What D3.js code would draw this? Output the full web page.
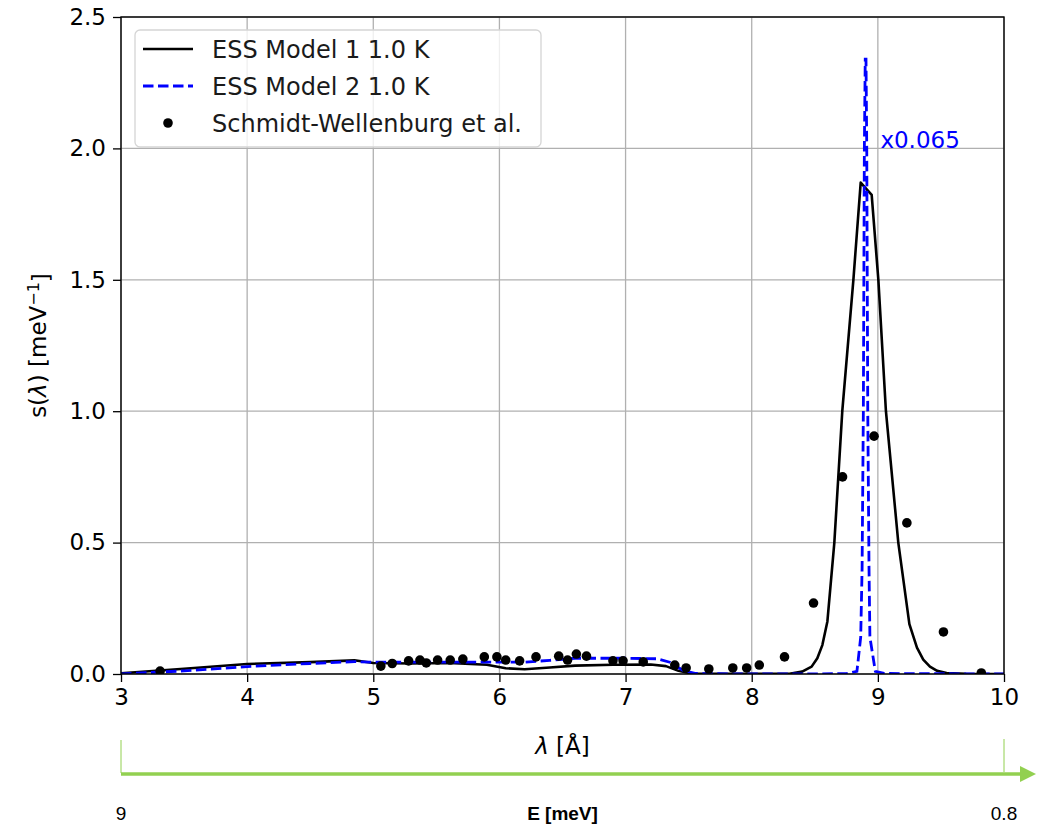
<head>
  <script src="https://d3js.org/d3.v7.min.js"></script>
</head>
<style>
  body { margin: 0; background: #fff; }
  text { font-family: "DejaVu Sans", sans-serif; }
</style>
<body>
  <svg id="chart"></svg>
</body>
<script>
  var w = 1038;
  var h = 824;
  var margin = {top: 17, right: 34, bottom: 150, left: 121};

  // measured points (Schmidt-Wellenburg et al.)
  var swLam = [3.31, 5.06, 5.15, 5.28, 5.37, 5.42, 5.51, 5.61, 5.71, 5.88, 5.98, 6.05, 6.16, 6.29,
               6.47, 6.54, 6.61, 6.69, 6.90, 6.98, 7.14, 7.39, 7.48, 7.66, 7.85, 7.96, 8.06, 8.26,
               8.49, 8.72, 8.97, 9.23, 9.52, 9.82];
  var swS   = [0.011, 0.03, 0.04, 0.05, 0.053, 0.042, 0.053, 0.053, 0.057, 0.065, 0.065, 0.053, 0.05, 0.065,
               0.068, 0.053, 0.076, 0.068, 0.05, 0.05, 0.046, 0.034, 0.023, 0.019, 0.023, 0.023, 0.034, 0.065,
               0.27, 0.75, 0.905, 0.575, 0.16, 0.004];

  // ESS Model 1 1.0 K
  var m1Lam = [3.0, 3.5, 4.0, 4.5, 4.85, 5.0, 5.3, 5.6, 5.9, 6.05, 6.2, 6.4, 6.6, 6.9, 7.2, 7.32, 7.42,
               7.52, 8.0, 8.3, 8.4, 8.475, 8.52, 8.56, 8.6, 8.655, 8.718, 8.806, 8.864, 8.951, 9.004, 9.064,
               9.162, 9.25, 9.31, 9.36, 9.413, 9.47, 9.545, 9.7, 10.0];
  var m1S   = [0.003, 0.02, 0.038, 0.045, 0.052, 0.042, 0.04, 0.042, 0.035, 0.022, 0.018, 0.025, 0.032, 0.035, 0.036, 0.03, 0.012,
               0.002, 0.001, 0.001, 0.009, 0.028, 0.06, 0.11, 0.2, 0.5, 1.0, 1.5, 1.87, 1.823, 1.5, 1.0,
               0.5, 0.19, 0.1, 0.055, 0.028, 0.012, 0.004, 0.001, 0.0];

  // ESS Model 2 1.0 K (scaled x0.065)
  var m2Lam = [3.0, 3.5, 4.0, 4.5, 4.85, 5.0, 5.5, 6.0, 6.2, 6.4, 6.6, 7.0, 7.25, 7.35, 7.45, 7.55, 8.0,
               8.75, 8.834, 8.864, 8.875, 8.885, 8.893, 8.9, 8.906, 8.912, 8.92, 8.93, 8.937, 8.98, 9.05, 10.0];
  var m2S   = [0.0, 0.012, 0.028, 0.04, 0.047, 0.045, 0.045, 0.045, 0.045, 0.052, 0.06, 0.06, 0.058, 0.045, 0.015, 0.002, 0.0,
               0.001, 0.01, 0.14, 0.4, 1.0, 2.0, 2.34, 2.34, 2.0, 1.0, 0.4, 0.14, 0.01, 0.002, 0.0];

  var xTicks = [3, 4, 5, 6, 7, 8, 9, 10];
  var yTicks = [0.0, 0.5, 1.0, 1.5, 2.0, 2.5];
  var legendLabels = ["ESS Model 1 1.0 K", "ESS Model 2 1.0 K", "Schmidt-Wellenburg et al."];
  var eLabels = ["9", "E [meV]", "0.8"];

  var svg = d3.select("svg#chart")
      .attr("width", w)
      .attr("height", h);

  var x = d3.scaleLinear().domain([3, 10]).range([margin.left, w - margin.right]);
  var y = d3.scaleLinear().domain([0, 2.5]).range([h - margin.bottom, margin.top]);

  svg.append("defs").append("clipPath").attr("id", "clip")
      .append("rect")
      .attr("x", x(3)).attr("y", y(2.5))
      .attr("width", x(10) - x(3)).attr("height", y(0) - y(2.5));

  // grid
  var grid = svg.append("g");
  grid.selectAll("line.gx").data(xTicks).enter().append("line")
      .attr("x1", d => x(d)).attr("x2", d => x(d))
      .attr("y1", y(0)).attr("y2", y(2.5))
      .style("stroke", "#b0b0b0").style("stroke-width", 1.3);
  grid.selectAll("line.gy").data(yTicks).enter().append("line")
      .attr("x1", x(3)).attr("x2", x(10))
      .attr("y1", d => y(d)).attr("y2", d => y(d))
      .style("stroke", "#b0b0b0").style("stroke-width", 1.3);

  // axes
  var xAxis = svg.append("g")
      .attr("transform", "translate(0," + y(0) + ")")
      .call(d3.axisBottom(x).tickValues(xTicks).tickFormat(d3.format("d")).tickSize(8).tickPadding(7));
  var yAxis = svg.append("g")
      .attr("transform", "translate(" + x(3) + ",0)")
      .call(d3.axisLeft(y).tickValues(yTicks).tickFormat(d3.format(".1f")).tickSize(8).tickPadding(7));
  [xAxis, yAxis].forEach(function(a){
    a.select(".domain").remove();
    a.selectAll(".tick line").style("stroke", "#000").style("stroke-width", 1.3);
    a.selectAll(".tick text").style("font-family", "DejaVu Sans").style("font-size", "23px").style("fill", "#000");
  });

  var plot = svg.append("g").attr("clip-path", "url(#clip)");
  var line = d3.line().x(d => x(d[0])).y(d => y(d[1]));

  plot.append("path")
      .datum(d3.zip(m1Lam, m1S))
      .attr("d", line)
      .style("fill", "none").style("stroke", "#000").style("stroke-width", 2.6)
      .style("stroke-linejoin", "round");

  plot.append("path")
      .datum(d3.zip(m2Lam, m2S))
      .attr("d", line)
      .style("fill", "none").style("stroke", "#0000ff").style("stroke-width", 2.8)
      .style("stroke-dasharray", "10.5,4.5");

  plot.selectAll("circle").data(d3.zip(swLam, swS)).enter().append("circle")
      .attr("cx", d => x(d[0])).attr("cy", d => y(d[1]))
      .attr("r", 4.8).style("fill", "#000");

  // frame
  svg.append("rect")
      .attr("x", x(3)).attr("y", y(2.5))
      .attr("width", x(10) - x(3)).attr("height", y(0) - y(2.5))
      .style("fill", "none").style("stroke", "#000").style("stroke-width", 1.4);

  // scale note
  svg.append("text")
      .attr("x", x(9.02)).attr("y", y(2.0))
      .style("font-size", "23px").style("fill", "#0000ff")
      .text("x0.065");

  // legend
  var lg = svg.append("g");
  lg.append("rect")
      .attr("x", 135).attr("y", 30).attr("width", 406).attr("height", 117)
      .attr("rx", 5)
      .style("fill", "#fff").style("fill-opacity", 0.8)
      .style("stroke", "#d5d5d5").style("stroke-width", 1.3);
  var rowY = [49, 86, 123];
  lg.append("line").attr("x1", 143).attr("x2", 193).attr("y1", rowY[0]).attr("y2", rowY[0])
      .style("stroke", "#000").style("stroke-width", 2.6);
  lg.append("line").attr("x1", 143).attr("x2", 193).attr("y1", rowY[1]).attr("y2", rowY[1])
      .style("stroke", "#0000ff").style("stroke-width", 2.8).style("stroke-dasharray", "10.5,4.5");
  lg.append("circle").attr("cx", 168).attr("cy", rowY[2]).attr("r", 4.8).style("fill", "#000");
  lg.selectAll("text").data(legendLabels).enter().append("text")
      .attr("x", 212).attr("y", (d, i) => rowY[i])
      .attr("dy", "0.36em")
      .style("font-size", "24px").style("fill", "#1a1a1a")
      .text(d => d);

  // axis labels
  var xl = svg.append("text")
      .attr("x", (x(3) + x(10)) / 2).attr("y", 754)
      .attr("text-anchor", "middle")
      .style("font-size", "23px");
  xl.append("tspan").style("font-style", "italic").text("λ");
  xl.append("tspan").text(" [Å]");

  var yl = svg.append("text")
      .attr("transform", "translate(46," + (y(0) + y(2.5)) / 2 + ") rotate(-90)")
      .attr("text-anchor", "middle")
      .style("font-size", "23px");
  yl.append("tspan").text("s(");
  yl.append("tspan").style("font-style", "italic").text("λ");
  yl.append("tspan").text(") [meV");
  yl.append("tspan").attr("dy", "-0.45em").style("font-size", "16px").text("−1");
  yl.append("tspan").attr("dy", "0.45em").text("]");

  // energy arrow below the axis
  var green = "#92d050";
  var ea = svg.append("g");
  ea.append("line").attr("x1", x(3)).attr("x2", x(3)).attr("y1", 740).attr("y2", 773)
      .style("stroke", green).style("stroke-width", 1);
  ea.append("line").attr("x1", x(10)).attr("x2", x(10)).attr("y1", 739).attr("y2", 772)
      .style("stroke", green).style("stroke-width", 1);
  ea.append("line").attr("x1", x(3)).attr("x2", 1022).attr("y1", 774).attr("y2", 774)
      .style("stroke", green).style("stroke-width", 3.5);
  ea.append("path")
      .attr("d", "M1020,766 L1036,774 L1020,782 Z")
      .style("fill", green);
  var ePos = [x(3), (x(3) + x(10)) / 2, x(10)];
  ea.selectAll("text").data(eLabels).enter().append("text")
      .attr("x", (d, i) => ePos[i]).attr("y", 820)
      .attr("text-anchor", "middle")
      .style("font-family", "Liberation Sans, Arial, sans-serif")
      .style("font-size", "19px")
      .style("font-weight", (d, i) => i === 1 ? "bold" : "normal")
      .text(d => d);
</script>
